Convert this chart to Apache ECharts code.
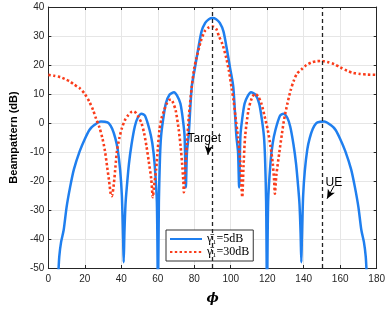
<!DOCTYPE html>
<html><head><meta charset="utf-8">
<script src="https://cdn.jsdelivr.net/npm/echarts@6/dist/echarts.min.js"></script>
<style>html,body{margin:0;padding:0;background:#fff}#c{width:388px;height:310px}</style>
</head><body><div id="c"></div>
<script>
// ---- data ----
var xTicks = [0,20,40,60,80,100,120,140,160,180];
var yTicks = [-50,-40,-30,-20,-10,0,10,20,30,40];
var seriesNames = ['\u03B3\u0304\u2081=5dB', '\u03B3\u0304\u2081=30dB'];
var blue = [
[5.4,-53],[6,-46],[7,-41],[8.4,-36.9],[10,-29],[11.9,-22.2],[14,-16],[17.2,-9.7],[20,-5.5],[22.5,-2.4],[25,-0.8],[28.8,0.5],[31,0.4],[33.2,-0.1],[35,-2],[36.7,-5.2],[38,-9],[39.4,-16.5],[40.3,-25],[41,-40],[41.3,-48],[41.7,-38],[42.3,-28],[43,-22.2],[44.2,-14],[45.6,-7.4],[47.4,-1.2],[49,1.8],[51.1,3.2],[53,2.5],[55.5,-2.4],[57,-7],[58.2,-13.7],[59.5,-27.3],[60.1,-60],[60.6,-27],[61.2,-12],[61.8,-4.6],[63,1.5],[64.4,6.7],[66.5,9.8],[68.9,10.6],[70.5,9.5],[72.4,6.7],[73.8,1],[74.7,-4.6],[75.4,-22.2],[76,-10],[76.9,-4.6],[78.6,12.4],[80.4,19.1],[82,25],[84,31.6],[86,34.5],[88,35.8],[90,36.2],
[92,35.8],[94,34.5],[96,31.6],[98,25],[99.6,19.1],[101.4,12.4],[103.1,-4.6],[104,-10],[104.6,-22.2],[105.3,-4.6],[106.2,1],[107.6,6.7],[109.5,9.5],[111.1,10.6],[113.5,9.8],[115.6,6.7],[117,1.5],[118.2,-4.6],[118.8,-12],[119.4,-27],[119.9,-60],[120.5,-27.3],[121.8,-13.7],[123,-7],[124.5,-2.4],[127,2.5],[128.9,3.2],[131,1.8],[132.6,-1.2],[134.4,-7.4],[135.8,-14],[137,-22.2],[137.7,-28],[138.3,-38],[138.7,-48],[139,-40],[139.7,-25],[140.6,-16.5],[142,-9],[143.3,-5.2],[145,-2],[146.8,-0.1],[149,0.4],[151.2,0.5],[155,-0.8],[157.5,-2.4],[160,-5.5],[162.8,-9.7],[166,-16],[168.1,-22.2],[170,-29],[171.6,-36.9],[173,-41],[174,-46],[174.6,-53]
];
var red = [
[0,16.6],[3,16.3],[6.6,15.8],[9,15.2],[11.9,14.3],[14,13.3],[17.2,12],[20,10],[22.5,7.3],[24.5,4.5],[26.1,1.6],[28,-1.5],[29.6,-5.2],[31,-9.5],[32.3,-15.4],[33.3,-20],[34.2,-24.5],[34.8,-25.2],[35.9,-21],[36.8,-15],[37.6,-9.7],[39,-5],[40.3,-1.8],[42,1],[43.8,2.7],[45.5,3.8],[46.7,4],[48,3.5],[49.5,2],[51.1,-0.1],[52.5,-3.5],[53.8,-8],[55,-13],[56.4,-19.3],[57.3,-25.6],[57.9,-22],[59.1,-16],[60,-9],[60.9,-2.4],[62,1.5],[63.5,4.4],[65,6.8],[66.5,8],[67.5,8],[68.5,6.8],[69.8,4.4],[71.5,-2.4],[72.5,-8],[73.3,-13.7],[74,-20],[74.3,-23.9],[75,-16],[76,-6.9],[77,2],[78.6,12.4],[80,19],[81.3,22.6],[83.5,28],[85.7,31.6],[88,33],[90,33.3],[92,32.5],[93.5,30],[95.5,27.1],[97.5,22.5],[99,18],[100.5,12],[101.5,8],[102.6,2.2],[104,-5],[105.3,-13.7],[106,-23],[106.3,-25.6],[107,-15],[107.9,-4.6],[109.7,4.4],[111.5,8.5],[113.3,10.1],[115,9.2],[116.8,6.7],[118.5,2.5],[120.3,-2.4],[121.8,-8],[123,-13.7],[123.8,-20],[124.2,-24.4],[125,-18],[126.6,-10.3],[128,-4],[129.2,1.0],[131,6.5],[132.8,11.2],[134.5,14.5],[136.3,17],[139,18.6],[141.5,20],[144.3,20.9],[147,21.3],[149.6,21.4],[153,21],[156.7,20.3],[160,19.2],[163.8,18],[167,17.3],[170.9,16.9],[175,16.7],[180,16.6]
];
var refLines = [90, 150];
var annTexts = [{text:'Target', at:[85.5, -5.3]}, {text:'UE', at:[156.5, -20.7]}];
var annArrows = [[[88,-7.2],[87.5,-11]], [[156.7,-21.6],[152.8,-26.1]]];

// ---- chart ----
var chart = echarts.init(document.getElementById('c'), null, {renderer:'canvas'});
var axisCol = '#262626';
var font = 'Liberation Sans, Arial, Helvetica, sans-serif';
function xAx(pos, show){
  return {type:'value', min:0, max:180, interval:20, position:pos,
    name: show ? '\u03D5' : '', nameLocation:'middle', nameGap:24,
    nameTextStyle:{fontSize:13, fontWeight:'bold', fontStyle:'italic', color:'#000', fontFamily:'DejaVu Serif, serif'},
    axisLine:{show:true, onZero:false, lineStyle:{color:axisCol, width:1}},
    axisTick:{show:true, inside:true, length:3, lineStyle:{color:axisCol}},
    axisLabel:{show:show, color:axisCol, fontSize:10, fontFamily:font, margin:6},
    splitLine:{show:show, lineStyle:{color:'#e6e6e6', width:1}}};
}
function yAx(pos, show){
  return {type:'value', min:-50, max:40, interval:10, position:pos,
    name: show ? 'Beampattern (dB)' : '', nameLocation:'middle', nameGap:26, nameRotate:90,
    nameTextStyle:{fontSize:11, fontWeight:'bold', color:'#000', fontFamily:font},
    axisLine:{show:true, onZero:false, lineStyle:{color:axisCol, width:1}},
    axisTick:{show:true, inside:true, length:3, lineStyle:{color:axisCol}},
    axisLabel:{show:show, color:axisCol, fontSize:10, fontFamily:font, margin:4},
    splitLine:{show:show, lineStyle:{color:'#e6e6e6', width:1}}};
}
var option = {
  animation:false,
  backgroundColor:'#fff',
  grid:{left:39, right:11, top:7, bottom:38, containLabel:false},
  xAxis:[xAx('bottom', true), xAx('top', false)],
  yAxis:[yAx('left', true), yAx('right', false)],
  legend:{
    orient:'vertical', left:166, top:230, padding:[3,4,3,3], itemGap:1,
    itemWidth:32, itemHeight:10, backgroundColor:'#fff', borderColor:'#333', borderWidth:1,
    itemStyle:{opacity:0},
    textStyle:{fontFamily:'Liberation Serif, DejaVu Serif, serif', fontSize:12, color:'#000'},
    data: seriesNames
  },
  series:[
    {name:seriesNames[0], type:'line', data:blue, showSymbol:false, symbol:'none', smooth:0.25,
     clip:true, color:'#1f7fef', lineStyle:{color:'#1f7fef', width:2.5}, z:3},
    {name:seriesNames[1], type:'line', data:red, showSymbol:false, symbol:'none', smooth:0.25,
     clip:true, color:'#fa3c1a', lineStyle:{color:'#fa3c1a', width:2.6, type:[2.4,2.4], cap:'butt'}, z:4},
    {name:'ann', type:'line', data:[], symbol:'none', z:5,
     markLine:{silent:true, symbol:['none','none'], label:{show:false},
       lineStyle:{color:'#222', type:[4,3], width:1.3},
       data: refLines.map(function(v){return {xAxis:v};})},
     markPoint:{silent:true, symbol:'circle', symbolSize:0,
       label:{show:true, position:'inside', color:'#000', fontSize:12, fontFamily:font, formatter:function(p){return p.name;}},
       data: annTexts.map(function(a){return {name:a.text, coord:a.at};})}
    },
    {name:'arrows', type:'line', data:[], symbol:'none', z:6,
     markLine:{silent:true, symbol:['none','arrow'], symbolSize:[6,9], label:{show:false},
       lineStyle:{color:'#000', type:'solid', width:1},
       data: annArrows.map(function(a){return [{coord:a[0]},{coord:a[1]}];})}
    }
  ]
};
chart.setOption(option);
</script></body></html>
